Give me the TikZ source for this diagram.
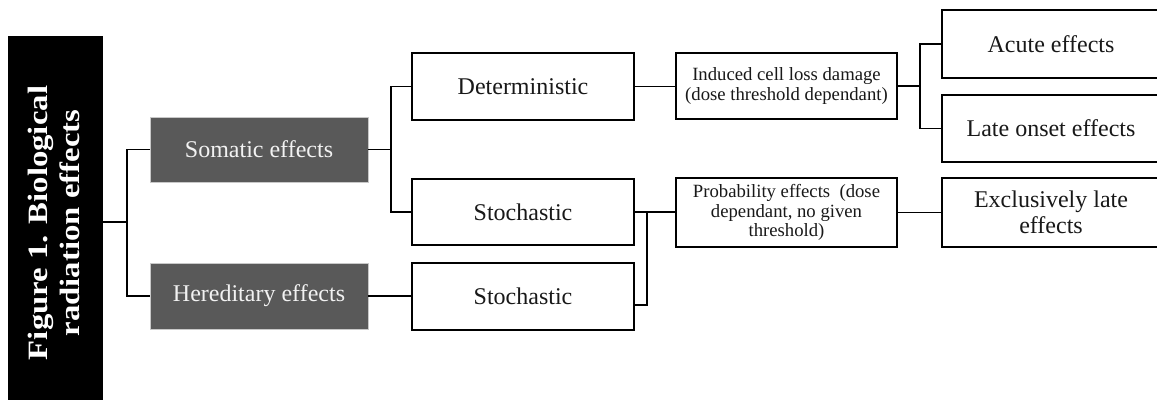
\documentclass[tikz,border=0pt]{standalone}
\usepackage{fontspec}
\setmainfont{Liberation Serif}
\newfontfamily\titlefont[FakeStretch=1.17]{Liberation Serif}
\usetikzlibrary{calc}
\definecolor{boxgray}{HTML}{595959}
\definecolor{edgegray}{HTML}{C8C8C8}
\tikzset{
  conn/.style={line width=1.5pt, draw=black},
  wbox/.style={draw=black, line width=1.5pt, fill=white, inner sep=0pt, align=center,
    font=\fontsize{24}{26}\selectfont, text=black!90},
  sbox/.style={wbox, font=\fontsize{18.7}{19.5}\selectfont},
  gbox/.style={draw=edgegray, line width=0.8pt, fill=boxgray, inner sep=0pt, align=center,
    font=\fontsize{24}{26}\selectfont, text=white!95!black},
}
\begin{document}
\begin{tikzpicture}[x=1pt,y=-1pt]
\useasboundingbox (0,0) rectangle (1157,400);
\clip (0,0) rectangle (1157,400);
% title bar
\node[fill=black, minimum width=95pt, minimum height=364pt, inner sep=0pt] (fig) at (55.5,218) {};
\node[rotate=90, text=white, align=center, font=\titlefont\bfseries\fontsize{28}{32}\selectfont] (title) at (54,223) {Figure 1. Biological\\radiation effects};
% level 1
\node[gbox, minimum width=218pt, minimum height=65pt] (som) at (259,149.5) {Somatic effects};
\node[gbox, minimum width=218pt, minimum height=66pt] (her) at (259,296) {Hereditary effects};
% level 2
\node[wbox, minimum width=222pt, minimum height=67pt] (det) at (523,86.5) {Deterministic};
\node[wbox, minimum width=222pt, minimum height=66pt] (sto1) at (523,212) {Stochastic};
\node[wbox, minimum width=222pt, minimum height=67pt] (sto2) at (523,296.5) {Stochastic};
% level 3
\node[sbox, minimum width=221pt, minimum height=66pt] (ind) at (786.5,86) {Induced cell loss damage\\(dose threshold dependant)};
\node[sbox, minimum width=221pt, minimum height=69pt] (prob) at (786.5,212.5) {Probability effects\ \ (dose\\dependant, no given\\threshold)};
% level 4
\node[wbox, minimum width=218pt, minimum height=68pt] (acu) at (1051,44) {Acute effects};
\node[wbox, minimum width=218pt, minimum height=67pt] (late) at (1051,128.5) {Late onset effects};
\node[wbox, minimum width=218pt, minimum height=69pt] (excl) at (1051,212.5) {Exclusively late\\effects};
% connectors
\coordinate (j1) at (127,222);
\draw[conn] (fig.east |- j1) -- (j1);
\draw[conn] (som.west) -| (j1) |- (her.west);
\coordinate (j2) at (391,149.5);
\draw[conn] (som.east) -- (j2);
\draw[conn] (det.west) -| (j2) |- (sto1.west);
\draw[conn] (her.east) -- (her.east -| sto2.west);
\draw[conn] (det.east) -- (det.east -| ind.west);
\coordinate (j3) at (920,86);
\draw[conn] (ind.east) -- (j3);
\draw[conn] (acu.west) -| (j3) |- (late.west);
\coordinate (j4) at (647,212);
\draw[conn] (sto1.east) -- (sto1.east -| prob.west);
\draw[conn] ($(sto2.east)+(0,8.5)$) -| (j4);
\draw[conn] (prob.east) -- (prob.east -| excl.west);
\end{tikzpicture}
\end{document}
